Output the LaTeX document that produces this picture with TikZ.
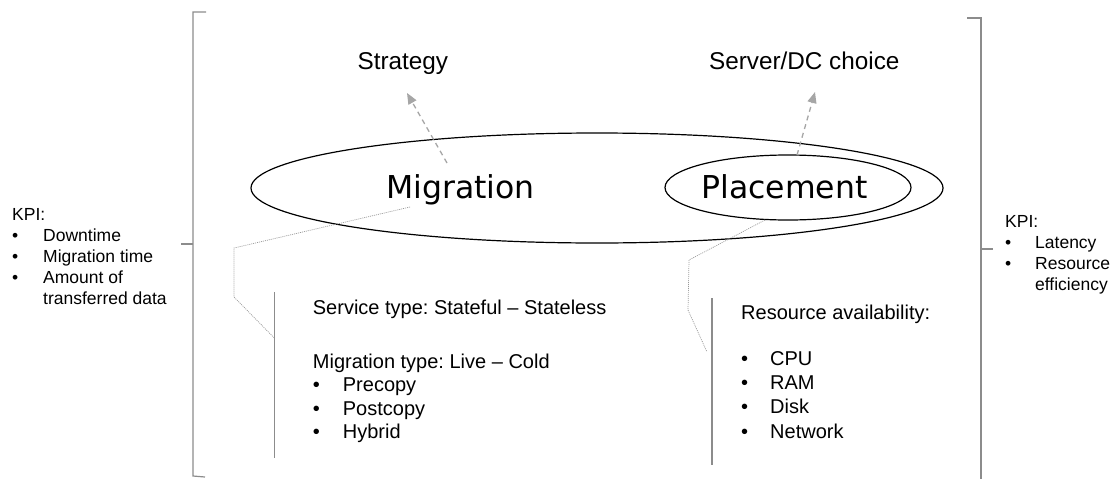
\documentclass[tikz,border=0pt]{standalone}
\usepackage{fontspec}
\setmainfont{Liberation Sans}
\newfontfamily\dejavu{DejaVu Sans}
\usetikzlibrary{shapes.geometric,arrows.meta}
\newcommand{\itm}[2][28pt]{\makebox[#1][l]{•}#2}
\frenchspacing

\begin{document}
\begin{tikzpicture}[x=1pt,y=-1pt]

%
% Styles
%
\tikzstyle{bigword} = [inner sep=0pt,font=\dejavu\fontsize{31.5}{36}\selectfont]
\tikzstyle{titletext} = [inner sep=0pt,font=\fontsize{24.3}{28}\selectfont]
\tikzstyle{bodytext} = [inner sep=0pt,align=left,anchor=north west,font=\fontsize{20}{23.6}\selectfont]
\tikzstyle{kpitext} = [inner sep=0pt,align=left,anchor=north west,font=\fontsize{17.5}{20.8}\selectfont]
\tikzstyle{ring} = [ellipse,draw,line width=1.2pt,inner sep=0pt]
\tikzstyle{hint} = [draw=gray!70,dash pattern=on 5pt off 4pt,line width=1.3pt,-{Triangle[length=11pt,width=9pt]}]
\tikzstyle{link} = [draw=gray!80,line width=0.7pt,dash pattern=on 1pt off 1pt]
\tikzstyle{bar} = [draw=gray!90,line width=1.2pt]

\useasboundingbox (0,0) rectangle (1113,479);

% brackets
\draw[bar] (206,12) -- (193,12) -- (193,476) -- (205,477);
\draw[bar] (193,244) -- (181,244);
\draw[bar] (967,18) -- (981,18) -- (981,479);
\draw[bar] (981,249) -- (993,249);

% ellipses
\node[ring,minimum width=692pt,minimum height=110pt] (mgmt) at (597,188) {};
\node[ring,minimum width=246pt,minimum height=65pt] (plcring) at (788,187.5) {};
\node[bigword,anchor=base] (mig) at (460.5,198) {Migration};
\node[bigword,anchor=base] (plc) at (784.5,198) {Placement};

% goals
\node[titletext,anchor=base] (strat) at (402.8,69) {Strategy};
\node[titletext,anchor=base] (server) at (804.3,69) {Server/DC choice};

\coordinate (migtop) at (447,163);
\coordinate (strattip) at (407,93);
\coordinate (plctop) at (797,155);
\coordinate (servertip) at (815,92);
\draw[hint] (migtop) -- (strattip);
\draw[hint] (plctop) -- (servertip);

% parameters
\draw[bar] (274.3,292) coordinate (lbar) -- (274.3,458);
\draw[bar] (712,298) coordinate (rbar) -- (712,465);

\coordinate (migfoot) at (410,207);
\coordinate (plcfoot) at (765,220);
\draw[link] (migfoot) -- (234,248) -- (234,297) -- ([yshift=-46pt]lbar);
\draw[link] (plcfoot) -- (689,260) -- (688,310) -- ([xshift=-5pt,yshift=-54pt]rbar);

\node[bodytext] (svc) at (312.7,299.9) {Service type: Stateful – Stateless\\[30pt]Migration type: Live – Cold\\\itm[30pt]{Precopy}\\\itm[30pt]{Postcopy}\\\itm[30pt]{Hybrid}};
\node[bodytext,font=\fontsize{20}{24.2}\selectfont] (res) at (741,304.6) {Resource availability:\\[22pt]\itm[29pt]{CPU}\\\itm[29pt]{RAM}\\\itm[29pt]{Disk}\\\itm[29pt]{Network}};

% KPI
\node[kpitext] (kpil) at (12,208.7) {KPI:\\\itm[31pt]{Downtime}\\\itm[31pt]{Migration time}\\\itm[31pt]{Amount of}\\\hspace*{31pt}transferred data};
\node[kpitext] (kpir) at (1005,215.7) {KPI:\\\itm[30pt]{Latency}\\\itm[30pt]{Resource}\\\hspace*{30pt}efficiency};

\end{tikzpicture}
\end{document}
